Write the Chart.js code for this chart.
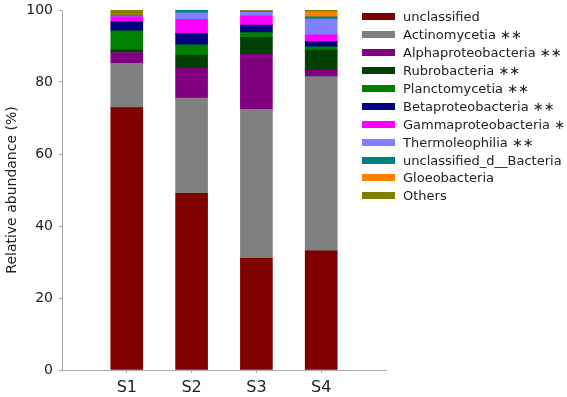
<!DOCTYPE html>
<html>
<head>
<meta charset="utf-8">
<script src="https://cdn.jsdelivr.net/npm/chart.js@4/dist/chart.umd.min.js"></script>
<style>
  body { margin: 0; background: #fff; }
  #wrap { position: relative; width: 567px; height: 397px; }
  #legend { position: absolute; left: 362px; top: 8px; font-family: 'DejaVu Sans'; font-size: 13px; color: #222; }
  .row { height: 17.9px; display: flex; align-items: center; white-space: nowrap; }
  .box { width: 33px; height: 7px; margin-right: 8px; }
</style>
</head>
<body>
<div id="wrap">
  <canvas id="myChart" width="567" height="397"></canvas>
  <div id="legend"></div>
</div>
<script>
const samples = ['S1', 'S2', 'S3', 'S4'];

// relative abundance (%) per class, bottom of the stack first
const unclassified = [72.9, 49.1, 31.0, 33.1];
const actinomycetia = [12.3, 26.4, 41.4, 48.4];
const alphaproteobacteria = [3.0, 8.3, 15.3, 1.8];
const rubrobacteria = [0.7, 3.7, 4.7, 5.6];
const planctomycetia = [5.3, 2.8, 1.3, 0.9];
const betaproteobacteria = [2.5, 3.2, 2.1, 1.4];
const gammaproteobacteria = [1.4, 3.9, 2.6, 1.9];
const thermoleophilia = [0.2, 1.8, 1.0, 4.4];
const unclassified_d_bacteria = [0.3, 0.7, 0.3, 0.6];
const gloeobacteria = [0.1, 0.05, 0.1, 1.4];
const others = [1.3, 0.05, 0.2, 0.5];

const yTicks = [0, 20, 40, 60, 80, 100];

const series = [
  ['unclassified', '', unclassified, '#800000'],
  ['Actinomycetia', '∗∗', actinomycetia, '#808080'],
  ['Alphaproteobacteria', '∗∗', alphaproteobacteria, '#800080'],
  ['Rubrobacteria', ' ∗∗', rubrobacteria, '#004000'],
  ['Planctomycetia', '∗∗', planctomycetia, '#008000'],
  ['Betaproteobacteria', '∗∗', betaproteobacteria, '#000080'],
  ['Gammaproteobacteria', '∗', gammaproteobacteria, '#ff00ff'],
  ['Thermoleophilia', '∗∗', thermoleophilia, '#8080ff'],
  ['unclassified_d__Bacteria', '', unclassified_d_bacteria, '#008080'],
  ['Gloeobacteria', '', gloeobacteria, '#ff8000'],
  ['Others', '', others, '#808000'],
];

const legend = document.getElementById('legend');
series.forEach(s => {
  let row = document.createElement('div');
  row.className = 'row';
  let box = document.createElement('span');
  box.className = 'box';
  box.style.background = s[3];
  row.appendChild(box);
  let txt = document.createElement('span');
  txt.textContent = s[0] + (s[1] ? ' ' + s[1] : '');
  row.appendChild(txt);
  legend.appendChild(row);
});

const ctx = document.getElementById('myChart').getContext('2d');
const axisColor = '#aaaaaa';

const chart = new Chart(ctx, {
  type: 'bar',
  data: {
    datasets: series.map(s => ({
      label: s[0],
      data: s[2].map((v, i) => ({ x: i + 1, y: v })),
      backgroundColor: s[3],
      borderWidth: 0,
      barThickness: 32,
    }))
  },
  options: {
    responsive: false,
    animation: false,
    layout: { padding: { top: 0, right: 181, left: 0, bottom: 0 } },
    plugins: { legend: { display: false }, tooltip: { enabled: false } },
    scales: {
      x: {
        type: 'linear',
        stacked: true,
        offset: false,
        min: 0,
        max: 5,
        afterBuildTicks: s => { s.ticks = samples.map((_, i) => ({ value: i + 1 })); },
        afterFit: s => { s.height = 27; },
        grid: { drawOnChartArea: false, tickLength: 3, color: axisColor, offset: false },
        border: { color: axisColor },
        ticks: {
          callback: v => samples[v - 1],
          font: { family: 'DejaVu Sans', size: 16 },
          color: '#222',
          padding: 5,
          maxRotation: 0,
        }
      },
      y: {
        stacked: true,
        min: 0,
        max: 100,
        afterBuildTicks: s => { s.ticks = yTicks.map(v => ({ value: v })); },
        afterFit: s => { s.width = 62; s.paddingTop = 10; s.paddingBottom = 0; },
        grid: { drawOnChartArea: false, tickLength: 3, color: axisColor },
        border: { color: axisColor },
        ticks: {
          font: { family: 'DejaVu Sans', size: 14 },
          color: '#222',
          padding: 6,
        },
        title: {
          display: true,
          text: 'Relative abundance (%)',
          font: { family: 'DejaVu Sans', size: 14 },
          color: '#222',
          padding: { top: 4, bottom: 0 },
        }
      }
    }
  }
});
</script>
</body>
</html>
